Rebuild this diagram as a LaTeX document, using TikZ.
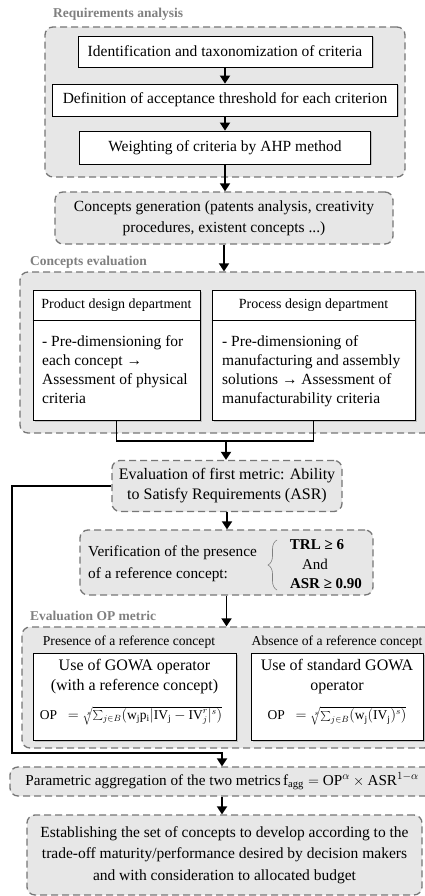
\documentclass[tikz,border=0pt]{standalone}
\usepackage{fontspec}
\setmainfont{Liberation Serif}
\usepackage{tikz}
\usetikzlibrary{shapes,arrows.meta,positioning,calc,shadows,decorations.pathreplacing}
\usepackage{xcolor}
\definecolor{groupfill}{RGB}{231,231,231}
\definecolor{groupline}{RGB}{118,118,118}
\definecolor{labelgray}{RGB}{128,128,128}

\begin{document}
\begin{tikzpicture}[x=1pt,y=-1pt,
    grpbox/.style={draw=groupline, fill=groupfill, line width=1.3pt, dash pattern=on 7pt off 4pt, rounded corners=8pt, inner sep=0pt},
    taskbox/.style={draw=black, fill=white, line width=0.8pt, inner sep=0pt, align=center, drop shadow={shadow xshift=1.5pt, shadow yshift=-1.5pt, fill=black!40}},
    grptitle/.style={font=\fontsize{13.5}{15}\selectfont\bfseries, text=labelgray, anchor=west, inner sep=0pt},
    txt/.style={font=\fontsize{15.5}{21}\selectfont, align=center, inner sep=0pt},
    headtxt/.style={font=\fontsize{14}{16}\selectfont, inner sep=0pt},
    bodytxt/.style={font=\fontsize{15.5}{19}\selectfont, align=left, anchor=north west, inner sep=0pt},
    formula/.style={font=\fontsize{13.5}{15}\selectfont, inner sep=0pt},
    flow/.style={line width=1.8pt, -{Triangle[width=10pt,length=8pt]}},
    link/.style={line width=1.8pt}]
    \path[use as bounding box, clip] (0,0) rectangle (425,896);

    % Requirements analysis
    \node[grptitle] (reqtitle) at (53,14) {Requirements analysis};
    \node[grpbox, minimum width=360, minimum height=150] (req) at (225,102) {};
    \node[taskbox, txt, minimum width=294, minimum height=31] (ident) at (225,51.5) {Identification and taxonomization of criteria};
    \node[taskbox, txt, minimum width=345, minimum height=32] (thresh) at (225,100) {Definition of acceptance threshold for each criterion};
    \node[taskbox, txt, minimum width=291, minimum height=33] (weight) at (225,147.5) {Weighting of criteria by AHP method};
    \draw[flow] (ident.south) -- (ident.south |- thresh.north);
    \draw[flow] (thresh.south) -- (thresh.south |- weight.north);

    % Concepts generation
    \node[grpbox, txt, minimum width=338, minimum height=52] (gen) at (224,218) {Concepts generation (patents analysis, creativity\\procedures, existent concepts ...)};
    \draw[flow] (weight.south) -- (weight.south |- gen.north);

    % Concepts evaluation
    \node[grptitle] (evaltitle) at (30,262) {Concepts evaluation};
    \node[grpbox, minimum width=412, minimum height=161] (evalgrp) at (226,352.5) {};
    \draw[flow] (gen.south) -- (gen.south |- evalgrp.north);
    \coordinate (headsplit) at (0,320);
    \node[taskbox, minimum width=167, minimum height=130] (prod) at (116.5,355) {};
    \draw[line width=0.8pt] (prod.west |- headsplit) -- (prod.east |- headsplit);
    \node[headtxt] (prodhead) at (116.5,305) {Product design department};
    \node[bodytxt] (prodbody) at (42,335) {- Pre-dimensioning for\\each concept → \\Assessment of physical\\criteria};
    \node[taskbox, minimum width=203, minimum height=130] (proc) at (313.5,355) {};
    \draw[line width=0.8pt] (proc.west |- headsplit) -- (proc.east |- headsplit);
    \node[headtxt] (prochead) at (313.5,305) {Process design department};
    \node[bodytxt] (procbody) at (222,335) {- Pre-dimensioning of\\manufacturing and assembly\\solutions → Assessment of\\manufacturability criteria};

    % Merge of both departments
    \coordinate (merge) at (226,441);
    \draw[link] (prod.south) |- (merge) -| (proc.south);

    % First metric
    \node[grpbox, txt, font=\fontsize{16}{20}\selectfont, minimum width=230, minimum height=51] (asr) at (227,486) {Evaluation of first metric: Ability\\to Satisfy Requirements (ASR)};
    \draw[flow] (merge) -- (merge |- asr.north);

    % Verification of a reference concept
    \node[grpbox, minimum width=293, minimum height=65] (ver) at (226.5,562.5) {};
    \node[txt, font=\fontsize{15.3}{22}\selectfont, align=left, anchor=west] (vertext) at (88,564) {Verification of the presence\\of a reference concept:};
    \draw[decorate, decoration={brace, amplitude=9pt}, labelgray, line width=0.6pt] (277,590) -- (277,540);
    \node[txt, font=\fontsize{15}{16}\selectfont\bfseries] (trl) at (317,545) {TRL ≥ 6};
    \node[txt, font=\fontsize{15}{16}\selectfont] (andtxt) at (315,564) {And};
    \node[txt, font=\fontsize{15}{16}\selectfont\bfseries] (asrmin) at (326,584) {ASR ≥ 0.90};
    \draw[flow] (asr.south) -- (asr.south |- ver.north);

    % Evaluation OP metric
    \node[grptitle] (optitle) at (30,616) {Evaluation OP metric};
    \node[grpbox, minimum width=410, minimum height=121] (opgrp) at (227,687.5) {};
    \draw[flow] (ver.south) -- (ver.south |- opgrp.north);
    \node[headtxt, font=\fontsize{13.6}{15}\selectfont] (prestitle) at (129,642) {Presence of a reference concept};
    \node[headtxt, font=\fontsize{13.6}{15}\selectfont] (abstitle) at (337,642) {Absence of a reference concept};
    \node[taskbox, minimum width=203, minimum height=87] (gowa) at (134.5,697) {};
    \node[txt, font=\fontsize{16}{20}\selectfont] (gowatext) at (134.5,677) {Use of GOWA operator\\(with a reference concept)};
    \node[formula] (gowaform) at (131,716) {$\mathrm{OP}\ \ = \sqrt[s]{\textstyle\sum_{j\in B}(\mathrm{w_j p_i}|\mathrm{IV_j}-\mathrm{IV}_j^r|^s)}$};
    \node[taskbox, minimum width=172, minimum height=87] (std) at (337,697) {};
    \node[txt, font=\fontsize{16}{20}\selectfont] (stdtext) at (337,677) {Use of standard GOWA\\operator};
    \node[formula] (stdform) at (337,716) {$\mathrm{OP}\ \ = \sqrt[s]{\textstyle\sum_{j\in B}(\mathrm{w_j}(\mathrm{IV_j})^s)}$};

    % Aggregation of the two metrics
    \node[grpbox, txt, font=\fontsize{15.2}{20}\selectfont, minimum width=424, minimum height=29] (agg) at (222,781.5) {Parametric aggregation of the two metrics$\,\mathrm{f_{agg}} = \mathrm{OP}^{\alpha} \times \mathrm{ASR}^{1-\alpha}$};
    \coordinate (loopturn) at (12,753);
    \draw[flow] (asr.west) -| (loopturn) -| (agg.north);

    % Final selection
    \node[grpbox, txt, font=\fontsize{15.5}{21.5}\selectfont, minimum width=395, minimum height=80] (final) at (224.5,855) {Establishing the set of concepts to develop according to the\\trade-off maturity/performance desired by decision makers\\and with consideration to allocated budget};
    \draw[flow] (agg.south) -- (agg.south |- final.north);
\end{tikzpicture}
\end{document}
